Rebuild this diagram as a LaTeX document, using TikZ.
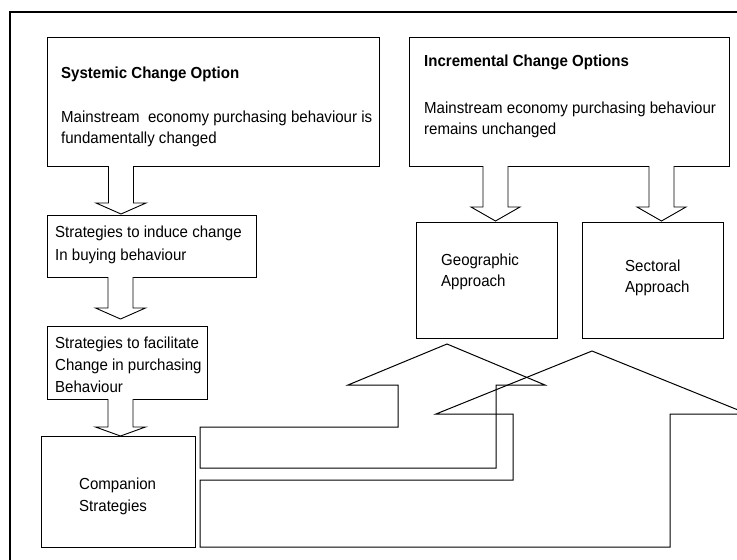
\documentclass[tikz,border=0pt]{standalone}
\usepackage{fontspec}
\setmainfont{Liberation Sans}[FakeStretch=0.94]
\begin{document}
\begin{tikzpicture}[x=1pt,y=-1pt,line join=miter]
\tikzset{
  box/.style={draw, line width=1pt, anchor=north west, inner sep=0pt, outer sep=0pt},
  txt/.style={anchor=base west, inner sep=0pt, font=\fontsize{16}{22}\selectfont},
  btxt/.style={anchor=base west, inner sep=0pt, font=\fontsize{16}{22}\selectfont\bfseries},
  blockarrow/.style={draw, line width=0.9pt, fill=white},
  bigarrow/.style={draw, line width=1pt},
  frame/.style={draw, line width=2pt}
}
\useasboundingbox (0,0) rectangle (737,560);
\clip (0,0) rectangle (737,560);
\draw[frame] (10,600) -- (10,12) -- (780,12);

% boxes
\node[box, minimum width=332pt, minimum height=129pt] (sys) at (47,37) {};
\node[box, minimum width=320pt, minimum height=129pt] (inc) at (409,37) {};
\node[box, minimum width=209pt, minimum height=62pt] (induce) at (47,215) {};
\node[box, minimum width=160pt, minimum height=73pt] (facil) at (47,326) {};
\node[box, minimum width=154pt, minimum height=111pt] (comp) at (41,436) {};
\node[box, minimum width=141pt, minimum height=116pt] (geo) at (416,222) {};
\node[box, minimum width=141pt, minimum height=116pt] (sec) at (582,222) {};

% texts
\node[btxt] (t1) at (61,78) {Systemic Change Option};
\node[txt] (t2) at (61,122) {Mainstream\ \ economy purchasing behaviour is};
\node[txt] (t3) at (61,143) {fundamentally changed};
\node[btxt] (t4) at (424,66) {Incremental Change Options};
\node[txt] (t5) at (424,113) {Mainstream economy purchasing behaviour};
\node[txt] (t6) at (424,134) {remains unchanged};
\node[txt] (t7) at (55,237) {Strategies to induce change};
\node[txt] (t8) at (55,260) {In buying behaviour};
\node[txt] (t9) at (55,348) {Strategies to facilitate};
\node[txt] (t10) at (55,370) {Change in purchasing};
\node[txt] (t11) at (55,392) {Behaviour};
\node[txt] (t12) at (79,489) {Companion};
\node[txt] (t13) at (79,511) {Strategies};
\node[txt] (t14) at (441,265) {Geographic};
\node[txt] (t15) at (441,286) {Approach};
\node[txt] (t16) at (625,271) {Sectoral};
\node[txt] (t17) at (625,292) {Approach};

% small block arrows
\draw[blockarrow] (108.5,166) -- (108.5,203) -- (96,203) -- (121,214) -- (146,203) -- (133.5,203) -- (133.5,166);
\draw[blockarrow] (108,277) -- (108,308) -- (95.5,308) -- (120.5,319) -- (145.5,308) -- (133,308) -- (133,277);
\draw[blockarrow] (108,399) -- (108,427) -- (95.5,427) -- (120.5,436) -- (145.5,427) -- (133,427) -- (133,399);
\draw[blockarrow] (483,166) -- (483,207) -- (471,207) -- (495.5,221) -- (520,207) -- (508,207) -- (508,166);
\draw[blockarrow] (649,166) -- (649,207) -- (637,207) -- (661.5,221) -- (686,207) -- (674,207) -- (674,166);

% big bent arrows
\draw[bigarrow] (447,344) -- (545,385) -- (496,385) -- (496,468) -- (200,468) -- (200,427) -- (398,427) -- (398,385) -- (348,385) -- cycle;
\draw[bigarrow] (592,351) -- (748,414) -- (670,414) -- (670,547) -- (200,547) -- (200,480) -- (513,480) -- (513,414) -- (436,414) -- cycle;
\end{tikzpicture}
\end{document}
